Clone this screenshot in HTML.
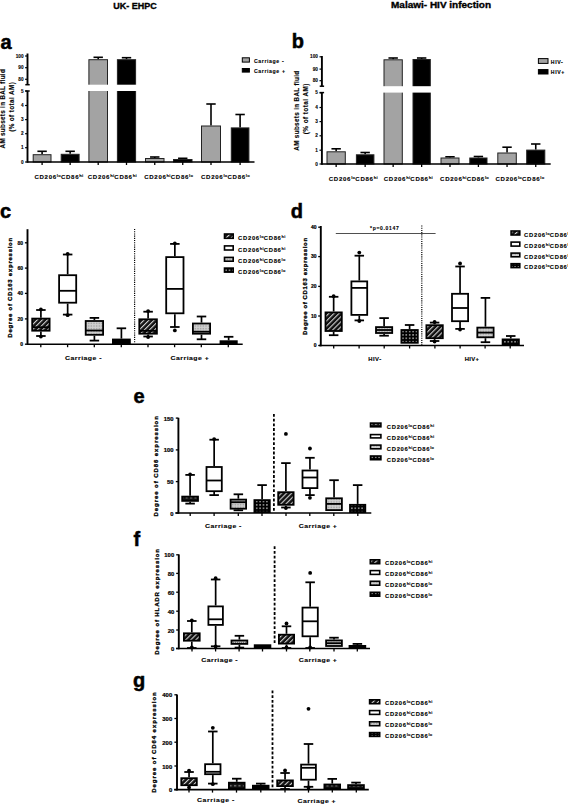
<!DOCTYPE html>
<html><head><meta charset="utf-8"><style>
html,body{margin:0;padding:0;background:#fff;width:568px;height:804px;overflow:hidden;}
svg{display:block;font-family:"Liberation Sans", sans-serif;}
</style></head><body>
<svg width="568" height="804" viewBox="0 0 568 804">
<rect width="568" height="804" fill="#fff"/>

<defs>
<pattern id="hatch" patternUnits="userSpaceOnUse" width="3.6" height="3.6" patternTransform="rotate(45)">
  <rect width="3.6" height="3.6" fill="#111"/>
  <rect x="0" y="0" width="1.1" height="3.6" fill="#d4d4d4"/>
</pattern>
<pattern id="dots" patternUnits="userSpaceOnUse" width="1.6" height="1.6">
  <rect width="1.6" height="1.6" fill="#d0d0d0"/>
  <rect x="0" y="0" width="0.8" height="0.8" fill="#9a9a9a"/>
</pattern>
<pattern id="chk" patternUnits="userSpaceOnUse" width="3.4" height="3.4">
  <rect width="3.4" height="3.4" fill="#000"/>
  <circle cx="1.7" cy="1.7" r="0.75" fill="#c8c8c8"/>
</pattern>
<pattern id="dash" patternUnits="userSpaceOnUse" width="4.4" height="3.2">
  <rect width="4.4" height="3.2" fill="#111"/>
  <rect x="0.8" y="1.3" width="2.2" height="0.9" fill="#c0c0c0"/>
</pattern>
</defs>

<text x="113.20" y="9.30" font-size="9.2" font-weight="bold" text-anchor="start" fill="#000" stroke="#000" stroke-width="0.35" textLength="43.5" lengthAdjust="spacingAndGlyphs">UK- EHPC</text>
<text x="391.00" y="8.00" font-size="9.2" font-weight="bold" text-anchor="start" fill="#000" stroke="#000" stroke-width="0.35" textLength="100" lengthAdjust="spacingAndGlyphs">Malawi- HIV infection</text>
<text x="0.60" y="48.80" font-size="20" font-weight="bold" text-anchor="start" fill="#000" stroke="#000" stroke-width="0.5">a</text>
<text x="291.70" y="47.50" font-size="20" font-weight="bold" text-anchor="start" fill="#000" stroke="#000" stroke-width="0.5">b</text>
<text x="0.00" y="218.20" font-size="20" font-weight="bold" text-anchor="start" fill="#000" stroke="#000" stroke-width="0.5">c</text>
<text x="290.80" y="218.20" font-size="20" font-weight="bold" text-anchor="start" fill="#000" stroke="#000" stroke-width="0.5">d</text>
<text x="133.60" y="403.20" font-size="20" font-weight="bold" text-anchor="start" fill="#000" stroke="#000" stroke-width="0.5">e</text>
<text x="133.50" y="546.30" font-size="20" font-weight="bold" text-anchor="start" fill="#000" stroke="#000" stroke-width="0.5">f</text>
<text x="133.00" y="686.50" font-size="20" font-weight="bold" text-anchor="start" fill="#000" stroke="#000" stroke-width="0.5">g</text>
<line x1="27.50" y1="53.50" x2="27.50" y2="84.70" stroke="#000" stroke-width="1.9"/>
<line x1="25.30" y1="84.70" x2="29.70" y2="84.70" stroke="#000" stroke-width="1.5"/>
<line x1="27.50" y1="91.00" x2="27.50" y2="162.80" stroke="#000" stroke-width="1.9"/>
<line x1="25.30" y1="91.00" x2="29.70" y2="91.00" stroke="#000" stroke-width="1.5"/>
<line x1="25.10" y1="56.00" x2="27.50" y2="56.00" stroke="#000" stroke-width="1.2"/>
<text x="23.50" y="57.60" font-size="4.7" font-weight="bold" text-anchor="end" fill="#000" stroke="#000" stroke-width="0.1">100</text>
<line x1="25.10" y1="67.70" x2="27.50" y2="67.70" stroke="#000" stroke-width="1.2"/>
<text x="23.50" y="69.30" font-size="4.7" font-weight="bold" text-anchor="end" fill="#000" stroke="#000" stroke-width="0.1">90</text>
<line x1="25.10" y1="79.30" x2="27.50" y2="79.30" stroke="#000" stroke-width="1.2"/>
<text x="23.50" y="80.90" font-size="4.7" font-weight="bold" text-anchor="end" fill="#000" stroke="#000" stroke-width="0.1">80</text>
<line x1="25.10" y1="91.00" x2="27.50" y2="91.00" stroke="#000" stroke-width="1.2"/>
<text x="23.50" y="92.60" font-size="4.7" font-weight="bold" text-anchor="end" fill="#000" stroke="#000" stroke-width="0.1">5</text>
<line x1="25.10" y1="105.50" x2="27.50" y2="105.50" stroke="#000" stroke-width="1.2"/>
<text x="23.50" y="107.10" font-size="4.7" font-weight="bold" text-anchor="end" fill="#000" stroke="#000" stroke-width="0.1">4</text>
<line x1="25.10" y1="119.60" x2="27.50" y2="119.60" stroke="#000" stroke-width="1.2"/>
<text x="23.50" y="121.20" font-size="4.7" font-weight="bold" text-anchor="end" fill="#000" stroke="#000" stroke-width="0.1">3</text>
<line x1="25.10" y1="133.70" x2="27.50" y2="133.70" stroke="#000" stroke-width="1.2"/>
<text x="23.50" y="135.30" font-size="4.7" font-weight="bold" text-anchor="end" fill="#000" stroke="#000" stroke-width="0.1">2</text>
<line x1="25.10" y1="147.70" x2="27.50" y2="147.70" stroke="#000" stroke-width="1.2"/>
<text x="23.50" y="149.30" font-size="4.7" font-weight="bold" text-anchor="end" fill="#000" stroke="#000" stroke-width="0.1">1</text>
<line x1="25.10" y1="162.00" x2="27.50" y2="162.00" stroke="#000" stroke-width="1.2"/>
<text x="23.50" y="163.60" font-size="4.7" font-weight="bold" text-anchor="end" fill="#000" stroke="#000" stroke-width="0.1">0</text>
<line x1="42.10" y1="151.30" x2="42.10" y2="154.20" stroke="#000" stroke-width="1.6"/>
<line x1="37.40" y1="151.30" x2="46.80" y2="151.30" stroke="#000" stroke-width="1.6"/>
<rect x="33.20" y="154.70" width="17.80" height="7.30" fill="#a3a3a3" stroke="#222" stroke-width="1.0"/>
<line x1="70.15" y1="151.30" x2="70.15" y2="153.80" stroke="#000" stroke-width="1.6"/>
<line x1="65.45" y1="151.30" x2="74.85" y2="151.30" stroke="#000" stroke-width="1.6"/>
<rect x="61.20" y="154.30" width="17.90" height="7.70" fill="#000" stroke="#222" stroke-width="1.0"/>
<line x1="98.20" y1="57.30" x2="98.20" y2="59.20" stroke="#000" stroke-width="1.6"/>
<line x1="93.50" y1="57.30" x2="102.90" y2="57.30" stroke="#000" stroke-width="1.6"/>
<rect x="88.90" y="59.70" width="18.60" height="102.30" fill="#a3a3a3" stroke="#222" stroke-width="1.0"/>
<rect x="87.40" y="84.70" width="21.60" height="6.30" fill="#fff"/>
<line x1="126.50" y1="57.70" x2="126.50" y2="59.20" stroke="#000" stroke-width="1.6"/>
<line x1="121.80" y1="57.70" x2="131.20" y2="57.70" stroke="#000" stroke-width="1.6"/>
<rect x="117.40" y="59.70" width="18.20" height="102.30" fill="#000" stroke="#222" stroke-width="1.0"/>
<rect x="115.90" y="84.70" width="21.20" height="6.30" fill="#fff"/>
<line x1="154.75" y1="157.00" x2="154.75" y2="158.00" stroke="#000" stroke-width="1.6"/>
<line x1="150.05" y1="157.00" x2="159.45" y2="157.00" stroke="#000" stroke-width="1.6"/>
<rect x="145.50" y="158.50" width="18.50" height="3.50" fill="#a3a3a3" stroke="#222" stroke-width="1.0"/>
<line x1="182.75" y1="158.30" x2="182.75" y2="159.00" stroke="#000" stroke-width="1.6"/>
<line x1="178.05" y1="158.30" x2="187.45" y2="158.30" stroke="#000" stroke-width="1.6"/>
<rect x="173.50" y="159.50" width="18.50" height="2.50" fill="#000" stroke="#222" stroke-width="1.0"/>
<line x1="211.00" y1="104.00" x2="211.00" y2="125.50" stroke="#000" stroke-width="1.6"/>
<line x1="206.30" y1="104.00" x2="215.70" y2="104.00" stroke="#000" stroke-width="1.6"/>
<rect x="201.50" y="126.00" width="19.00" height="36.00" fill="#a3a3a3" stroke="#222" stroke-width="1.0"/>
<line x1="240.10" y1="114.50" x2="240.10" y2="127.40" stroke="#000" stroke-width="1.6"/>
<line x1="235.40" y1="114.50" x2="244.80" y2="114.50" stroke="#000" stroke-width="1.6"/>
<rect x="231.30" y="127.90" width="17.60" height="34.10" fill="#000" stroke="#222" stroke-width="1.0"/>
<line x1="27.50" y1="162.00" x2="254.50" y2="162.00" stroke="#000" stroke-width="1.6"/>
<line x1="42.10" y1="162.00" x2="42.10" y2="165.00" stroke="#000" stroke-width="1.3"/>
<line x1="70.15" y1="162.00" x2="70.15" y2="165.00" stroke="#000" stroke-width="1.3"/>
<line x1="98.20" y1="162.00" x2="98.20" y2="165.00" stroke="#000" stroke-width="1.3"/>
<line x1="126.50" y1="162.00" x2="126.50" y2="165.00" stroke="#000" stroke-width="1.3"/>
<line x1="154.75" y1="162.00" x2="154.75" y2="165.00" stroke="#000" stroke-width="1.3"/>
<line x1="182.75" y1="162.00" x2="182.75" y2="165.00" stroke="#000" stroke-width="1.3"/>
<line x1="211.00" y1="162.00" x2="211.00" y2="165.00" stroke="#000" stroke-width="1.3"/>
<line x1="240.10" y1="162.00" x2="240.10" y2="165.00" stroke="#000" stroke-width="1.3"/>
<text transform="translate(58.90 178.70) scale(1.17 1)" x="0" y="0" font-size="5.2" font-weight="bold" text-anchor="middle" fill="#000" letter-spacing="0.6" stroke="#000" stroke-width="0.1">CD206<tspan font-size="3.54" dy="-2.0" letter-spacing="0.2">lo</tspan><tspan dy="2.0">CD86</tspan><tspan font-size="3.54" dy="-2.0" letter-spacing="0.2">hi</tspan></text>
<text transform="translate(112.30 178.70) scale(1.17 1)" x="0" y="0" font-size="5.2" font-weight="bold" text-anchor="middle" fill="#000" letter-spacing="0.6" stroke="#000" stroke-width="0.1">CD206<tspan font-size="3.54" dy="-2.0" letter-spacing="0.2">hi</tspan><tspan dy="2.0">CD86</tspan><tspan font-size="3.54" dy="-2.0" letter-spacing="0.2">hi</tspan></text>
<text transform="translate(168.70 178.70) scale(1.17 1)" x="0" y="0" font-size="5.2" font-weight="bold" text-anchor="middle" fill="#000" letter-spacing="0.6" stroke="#000" stroke-width="0.1">CD206<tspan font-size="3.54" dy="-2.0" letter-spacing="0.2">hi</tspan><tspan dy="2.0">CD86</tspan><tspan font-size="3.54" dy="-2.0" letter-spacing="0.2">lo</tspan></text>
<text transform="translate(225.50 178.70) scale(1.17 1)" x="0" y="0" font-size="5.2" font-weight="bold" text-anchor="middle" fill="#000" letter-spacing="0.6" stroke="#000" stroke-width="0.1">CD206<tspan font-size="3.54" dy="-2.0" letter-spacing="0.2">lo</tspan><tspan dy="2.0">CD86</tspan><tspan font-size="3.54" dy="-2.0" letter-spacing="0.2">lo</tspan></text>
<text x="5.00" y="108.85" font-size="6.3" font-weight="bold" text-anchor="middle" fill="#000" stroke="#000" stroke-width="0.12" textLength="79.3" lengthAdjust="spacing" transform="rotate(-90 5.00 108.85)">AM subsets in BAL fluid</text>
<text x="14.00" y="107.00" font-size="6.3" font-weight="bold" text-anchor="middle" fill="#000" stroke="#000" stroke-width="0.12" textLength="49.7" lengthAdjust="spacing" transform="rotate(-90 14.00 107.00)">(% of total AM)</text>
<rect x="242.30" y="57.80" width="7.10" height="4.30" fill="#a3a3a3" stroke="#000" stroke-width="1.0"/>
<text x="254.00" y="62.90" font-size="5.2" font-weight="bold" text-anchor="start" fill="#000" letter-spacing="0.6" stroke="#000" stroke-width="0.12">Carriage -</text>
<rect x="242.30" y="68.50" width="7.10" height="3.60" fill="#000" stroke="#000" stroke-width="1.0"/>
<text x="254.00" y="73.20" font-size="5.2" font-weight="bold" text-anchor="start" fill="#000" letter-spacing="0.6" stroke="#000" stroke-width="0.12">Carriage +</text>
<line x1="321.90" y1="56.00" x2="321.90" y2="86.20" stroke="#000" stroke-width="1.9"/>
<line x1="319.70" y1="86.20" x2="324.10" y2="86.20" stroke="#000" stroke-width="1.5"/>
<line x1="321.90" y1="92.60" x2="321.90" y2="164.80" stroke="#000" stroke-width="1.9"/>
<line x1="319.70" y1="92.60" x2="324.10" y2="92.60" stroke="#000" stroke-width="1.5"/>
<line x1="319.50" y1="56.80" x2="321.90" y2="56.80" stroke="#000" stroke-width="1.2"/>
<text x="317.90" y="58.40" font-size="4.7" font-weight="bold" text-anchor="end" fill="#000" stroke="#000" stroke-width="0.1">100</text>
<line x1="319.50" y1="69.10" x2="321.90" y2="69.10" stroke="#000" stroke-width="1.2"/>
<text x="317.90" y="70.70" font-size="4.7" font-weight="bold" text-anchor="end" fill="#000" stroke="#000" stroke-width="0.1">90</text>
<line x1="319.50" y1="80.70" x2="321.90" y2="80.70" stroke="#000" stroke-width="1.2"/>
<text x="317.90" y="82.30" font-size="4.7" font-weight="bold" text-anchor="end" fill="#000" stroke="#000" stroke-width="0.1">80</text>
<line x1="319.50" y1="92.80" x2="321.90" y2="92.80" stroke="#000" stroke-width="1.2"/>
<text x="317.90" y="94.40" font-size="4.7" font-weight="bold" text-anchor="end" fill="#000" stroke="#000" stroke-width="0.1">5</text>
<line x1="319.50" y1="107.50" x2="321.90" y2="107.50" stroke="#000" stroke-width="1.2"/>
<text x="317.90" y="109.10" font-size="4.7" font-weight="bold" text-anchor="end" fill="#000" stroke="#000" stroke-width="0.1">4</text>
<line x1="319.50" y1="121.60" x2="321.90" y2="121.60" stroke="#000" stroke-width="1.2"/>
<text x="317.90" y="123.20" font-size="4.7" font-weight="bold" text-anchor="end" fill="#000" stroke="#000" stroke-width="0.1">3</text>
<line x1="319.50" y1="135.80" x2="321.90" y2="135.80" stroke="#000" stroke-width="1.2"/>
<text x="317.90" y="137.40" font-size="4.7" font-weight="bold" text-anchor="end" fill="#000" stroke="#000" stroke-width="0.1">2</text>
<line x1="319.50" y1="150.20" x2="321.90" y2="150.20" stroke="#000" stroke-width="1.2"/>
<text x="317.90" y="151.80" font-size="4.7" font-weight="bold" text-anchor="end" fill="#000" stroke="#000" stroke-width="0.1">1</text>
<line x1="319.50" y1="164.00" x2="321.90" y2="164.00" stroke="#000" stroke-width="1.2"/>
<text x="317.90" y="165.60" font-size="4.7" font-weight="bold" text-anchor="end" fill="#000" stroke="#000" stroke-width="0.1">0</text>
<line x1="336.15" y1="148.80" x2="336.15" y2="151.30" stroke="#000" stroke-width="1.6"/>
<line x1="331.45" y1="148.80" x2="340.85" y2="148.80" stroke="#000" stroke-width="1.6"/>
<rect x="327.00" y="151.80" width="18.30" height="12.20" fill="#a3a3a3" stroke="#222" stroke-width="1.0"/>
<line x1="365.15" y1="152.50" x2="365.15" y2="154.30" stroke="#000" stroke-width="1.6"/>
<line x1="360.45" y1="152.50" x2="369.85" y2="152.50" stroke="#000" stroke-width="1.6"/>
<rect x="356.40" y="154.80" width="17.50" height="9.20" fill="#000" stroke="#222" stroke-width="1.0"/>
<line x1="393.15" y1="58.00" x2="393.15" y2="59.30" stroke="#000" stroke-width="1.6"/>
<line x1="388.45" y1="58.00" x2="397.85" y2="58.00" stroke="#000" stroke-width="1.6"/>
<rect x="384.00" y="59.80" width="18.30" height="104.20" fill="#a3a3a3" stroke="#222" stroke-width="1.0"/>
<rect x="382.50" y="86.20" width="21.30" height="6.40" fill="#fff"/>
<line x1="421.65" y1="58.00" x2="421.65" y2="59.00" stroke="#000" stroke-width="1.6"/>
<line x1="416.95" y1="58.00" x2="426.35" y2="58.00" stroke="#000" stroke-width="1.6"/>
<rect x="413.00" y="59.50" width="17.30" height="104.50" fill="#000" stroke="#222" stroke-width="1.0"/>
<rect x="411.50" y="86.20" width="20.30" height="6.40" fill="#fff"/>
<line x1="450.00" y1="156.80" x2="450.00" y2="157.50" stroke="#000" stroke-width="1.6"/>
<line x1="445.30" y1="156.80" x2="454.70" y2="156.80" stroke="#000" stroke-width="1.6"/>
<rect x="441.00" y="158.00" width="18.00" height="6.00" fill="#a3a3a3" stroke="#222" stroke-width="1.0"/>
<line x1="478.40" y1="156.50" x2="478.40" y2="157.50" stroke="#000" stroke-width="1.6"/>
<line x1="473.70" y1="156.50" x2="483.10" y2="156.50" stroke="#000" stroke-width="1.6"/>
<rect x="469.80" y="158.00" width="17.20" height="6.00" fill="#000" stroke="#222" stroke-width="1.0"/>
<line x1="507.05" y1="147.20" x2="507.05" y2="152.50" stroke="#000" stroke-width="1.6"/>
<line x1="502.35" y1="147.20" x2="511.75" y2="147.20" stroke="#000" stroke-width="1.6"/>
<rect x="497.80" y="153.00" width="18.50" height="11.00" fill="#a3a3a3" stroke="#222" stroke-width="1.0"/>
<line x1="535.75" y1="144.00" x2="535.75" y2="149.60" stroke="#000" stroke-width="1.6"/>
<line x1="531.05" y1="144.00" x2="540.45" y2="144.00" stroke="#000" stroke-width="1.6"/>
<rect x="526.70" y="150.10" width="18.10" height="13.90" fill="#000" stroke="#222" stroke-width="1.0"/>
<line x1="321.90" y1="164.00" x2="550.70" y2="164.00" stroke="#000" stroke-width="1.6"/>
<line x1="336.15" y1="164.00" x2="336.15" y2="167.00" stroke="#000" stroke-width="1.3"/>
<line x1="365.15" y1="164.00" x2="365.15" y2="167.00" stroke="#000" stroke-width="1.3"/>
<line x1="393.15" y1="164.00" x2="393.15" y2="167.00" stroke="#000" stroke-width="1.3"/>
<line x1="421.65" y1="164.00" x2="421.65" y2="167.00" stroke="#000" stroke-width="1.3"/>
<line x1="450.00" y1="164.00" x2="450.00" y2="167.00" stroke="#000" stroke-width="1.3"/>
<line x1="478.40" y1="164.00" x2="478.40" y2="167.00" stroke="#000" stroke-width="1.3"/>
<line x1="507.05" y1="164.00" x2="507.05" y2="167.00" stroke="#000" stroke-width="1.3"/>
<line x1="535.75" y1="164.00" x2="535.75" y2="167.00" stroke="#000" stroke-width="1.3"/>
<text transform="translate(353.30 181.00) scale(1.17 1)" x="0" y="0" font-size="5.2" font-weight="bold" text-anchor="middle" fill="#000" letter-spacing="0.6" stroke="#000" stroke-width="0.1">CD206<tspan font-size="3.54" dy="-2.0" letter-spacing="0.2">lo</tspan><tspan dy="2.0">CD86</tspan><tspan font-size="3.54" dy="-2.0" letter-spacing="0.2">hi</tspan></text>
<text transform="translate(408.30 181.00) scale(1.17 1)" x="0" y="0" font-size="5.2" font-weight="bold" text-anchor="middle" fill="#000" letter-spacing="0.6" stroke="#000" stroke-width="0.1">CD206<tspan font-size="3.54" dy="-2.0" letter-spacing="0.2">hi</tspan><tspan dy="2.0">CD86</tspan><tspan font-size="3.54" dy="-2.0" letter-spacing="0.2">hi</tspan></text>
<text transform="translate(464.60 181.00) scale(1.17 1)" x="0" y="0" font-size="5.2" font-weight="bold" text-anchor="middle" fill="#000" letter-spacing="0.6" stroke="#000" stroke-width="0.1">CD206<tspan font-size="3.54" dy="-2.0" letter-spacing="0.2">hi</tspan><tspan dy="2.0">CD86</tspan><tspan font-size="3.54" dy="-2.0" letter-spacing="0.2">lo</tspan></text>
<text transform="translate(520.00 181.00) scale(1.17 1)" x="0" y="0" font-size="5.2" font-weight="bold" text-anchor="middle" fill="#000" letter-spacing="0.6" stroke="#000" stroke-width="0.1">CD206<tspan font-size="3.54" dy="-2.0" letter-spacing="0.2">lo</tspan><tspan dy="2.0">CD86</tspan><tspan font-size="3.54" dy="-2.0" letter-spacing="0.2">lo</tspan></text>
<text x="298.90" y="110.80" font-size="6.3" font-weight="bold" text-anchor="middle" fill="#000" stroke="#000" stroke-width="0.12" textLength="79.8" lengthAdjust="spacing" transform="rotate(-90 298.90 110.80)">AM subsets in BAL fluid</text>
<text x="308.40" y="108.95" font-size="6.3" font-weight="bold" text-anchor="middle" fill="#000" stroke="#000" stroke-width="0.12" textLength="50.5" lengthAdjust="spacing" transform="rotate(-90 308.40 108.95)">(% of total AM)</text>
<rect x="538.40" y="58.60" width="9.60" height="4.80" fill="#a3a3a3" stroke="#000" stroke-width="1.0"/>
<text x="550.80" y="63.80" font-size="5.2" font-weight="bold" text-anchor="start" fill="#000" letter-spacing="0.6" stroke="#000" stroke-width="0.12">HIV-</text>
<rect x="538.40" y="69.60" width="9.60" height="4.40" fill="#000" stroke="#000" stroke-width="1.0"/>
<text x="550.80" y="74.00" font-size="5.2" font-weight="bold" text-anchor="start" fill="#000" letter-spacing="0.6" stroke="#000" stroke-width="0.12">HIV+</text>
<line x1="27.50" y1="229.20" x2="27.50" y2="345.00" stroke="#000" stroke-width="1.9"/>
<line x1="24.90" y1="242.80" x2="27.50" y2="242.80" stroke="#000" stroke-width="1.3"/>
<text x="23.10" y="244.50" font-size="5.0" font-weight="bold" text-anchor="end" fill="#000" stroke="#000" stroke-width="0.2">80</text>
<line x1="24.90" y1="268.10" x2="27.50" y2="268.10" stroke="#000" stroke-width="1.3"/>
<text x="23.10" y="269.80" font-size="5.0" font-weight="bold" text-anchor="end" fill="#000" stroke="#000" stroke-width="0.2">60</text>
<line x1="24.90" y1="293.40" x2="27.50" y2="293.40" stroke="#000" stroke-width="1.3"/>
<text x="23.10" y="295.10" font-size="5.0" font-weight="bold" text-anchor="end" fill="#000" stroke="#000" stroke-width="0.2">40</text>
<line x1="24.90" y1="318.90" x2="27.50" y2="318.90" stroke="#000" stroke-width="1.3"/>
<text x="23.10" y="320.60" font-size="5.0" font-weight="bold" text-anchor="end" fill="#000" stroke="#000" stroke-width="0.2">20</text>
<line x1="24.90" y1="344.20" x2="27.50" y2="344.20" stroke="#000" stroke-width="1.3"/>
<text x="23.10" y="345.90" font-size="5.0" font-weight="bold" text-anchor="end" fill="#000" stroke="#000" stroke-width="0.2">0</text>
<text x="12.30" y="287.75" font-size="6.0" font-weight="bold" text-anchor="middle" fill="#000" stroke="#000" stroke-width="0.3" textLength="99.9" lengthAdjust="spacing" transform="rotate(-90 12.30 287.75)">Degree of CD163 expression</text>
<line x1="134.60" y1="229.00" x2="134.60" y2="343.00" stroke="#000" stroke-width="1.2" stroke-dasharray="1.1,1.1"/>
<line x1="27.50" y1="344.20" x2="242.70" y2="344.20" stroke="#000" stroke-width="1.6"/>
<line x1="40.80" y1="344.20" x2="40.80" y2="347.20" stroke="#000" stroke-width="1.3"/>
<line x1="67.60" y1="344.20" x2="67.60" y2="347.20" stroke="#000" stroke-width="1.3"/>
<line x1="94.30" y1="344.20" x2="94.30" y2="347.20" stroke="#000" stroke-width="1.3"/>
<line x1="121.30" y1="344.20" x2="121.30" y2="347.20" stroke="#000" stroke-width="1.3"/>
<line x1="148.00" y1="344.20" x2="148.00" y2="347.20" stroke="#000" stroke-width="1.3"/>
<line x1="174.60" y1="344.20" x2="174.60" y2="347.20" stroke="#000" stroke-width="1.3"/>
<line x1="201.30" y1="344.20" x2="201.30" y2="347.20" stroke="#000" stroke-width="1.3"/>
<line x1="228.30" y1="344.20" x2="228.30" y2="347.20" stroke="#000" stroke-width="1.3"/>
<line x1="40.90" y1="310.00" x2="40.90" y2="317.70" stroke="#000" stroke-width="1.7"/>
<line x1="36.15" y1="310.00" x2="45.65" y2="310.00" stroke="#000" stroke-width="1.8"/>
<line x1="40.90" y1="331.60" x2="40.90" y2="336.00" stroke="#000" stroke-width="1.7"/>
<line x1="36.15" y1="336.00" x2="45.65" y2="336.00" stroke="#000" stroke-width="1.8"/>
<rect x="32.20" y="318.60" width="17.40" height="12.10" fill="url(#hatch)" stroke="#000" stroke-width="1.8"/>
<line x1="32.20" y1="327.20" x2="49.60" y2="327.20" stroke="#000" stroke-width="1.8"/>
<circle cx="40.90" cy="309.40" r="1.9" fill="#000"/>
<circle cx="40.90" cy="336.60" r="1.9" fill="#000"/>
<line x1="67.65" y1="254.50" x2="67.65" y2="274.30" stroke="#000" stroke-width="1.7"/>
<line x1="62.90" y1="254.50" x2="72.40" y2="254.50" stroke="#000" stroke-width="1.8"/>
<line x1="67.65" y1="303.60" x2="67.65" y2="314.60" stroke="#000" stroke-width="1.7"/>
<line x1="62.90" y1="314.60" x2="72.40" y2="314.60" stroke="#000" stroke-width="1.8"/>
<rect x="59.10" y="275.20" width="17.10" height="27.50" fill="#fff" stroke="#000" stroke-width="1.8"/>
<line x1="59.10" y1="290.80" x2="76.20" y2="290.80" stroke="#000" stroke-width="1.8"/>
<circle cx="67.65" cy="253.90" r="1.9" fill="#000"/>
<circle cx="67.65" cy="315.20" r="1.9" fill="#000"/>
<line x1="94.40" y1="317.90" x2="94.40" y2="320.10" stroke="#000" stroke-width="1.7"/>
<line x1="89.65" y1="317.90" x2="99.15" y2="317.90" stroke="#000" stroke-width="1.8"/>
<line x1="94.40" y1="335.70" x2="94.40" y2="340.60" stroke="#000" stroke-width="1.7"/>
<line x1="89.65" y1="340.60" x2="99.15" y2="340.60" stroke="#000" stroke-width="1.8"/>
<rect x="85.70" y="321.00" width="17.40" height="13.80" fill="url(#dots)" stroke="#000" stroke-width="1.8"/>
<line x1="85.70" y1="330.50" x2="103.10" y2="330.50" stroke="#000" stroke-width="1.8"/>
<line x1="121.40" y1="328.30" x2="121.40" y2="338.60" stroke="#000" stroke-width="1.7"/>
<line x1="116.65" y1="328.30" x2="126.15" y2="328.30" stroke="#000" stroke-width="1.8"/>
<rect x="112.90" y="339.50" width="17.00" height="3.80" fill="#000" stroke="#000" stroke-width="1.8"/>
<line x1="148.10" y1="311.70" x2="148.10" y2="318.40" stroke="#000" stroke-width="1.7"/>
<line x1="143.35" y1="311.70" x2="152.85" y2="311.70" stroke="#000" stroke-width="1.8"/>
<line x1="148.10" y1="334.60" x2="148.10" y2="336.50" stroke="#000" stroke-width="1.7"/>
<line x1="143.35" y1="336.50" x2="152.85" y2="336.50" stroke="#000" stroke-width="1.8"/>
<rect x="139.30" y="319.30" width="17.60" height="14.40" fill="url(#hatch)" stroke="#000" stroke-width="1.8"/>
<line x1="139.30" y1="330.80" x2="156.90" y2="330.80" stroke="#000" stroke-width="1.8"/>
<circle cx="148.10" cy="311.10" r="1.9" fill="#000"/>
<circle cx="148.10" cy="337.10" r="1.9" fill="#000"/>
<line x1="174.85" y1="243.90" x2="174.85" y2="256.20" stroke="#000" stroke-width="1.7"/>
<line x1="170.10" y1="243.90" x2="179.60" y2="243.90" stroke="#000" stroke-width="1.8"/>
<line x1="174.85" y1="314.20" x2="174.85" y2="327.00" stroke="#000" stroke-width="1.7"/>
<line x1="170.10" y1="327.00" x2="179.60" y2="327.00" stroke="#000" stroke-width="1.8"/>
<rect x="166.20" y="257.10" width="17.30" height="56.20" fill="#fff" stroke="#000" stroke-width="1.8"/>
<line x1="166.20" y1="288.90" x2="183.50" y2="288.90" stroke="#000" stroke-width="1.8"/>
<circle cx="174.85" cy="330.40" r="1.9" fill="#000"/>
<circle cx="174.85" cy="243.30" r="1.9" fill="#000"/>
<line x1="201.50" y1="316.50" x2="201.50" y2="322.60" stroke="#000" stroke-width="1.7"/>
<line x1="196.75" y1="316.50" x2="206.25" y2="316.50" stroke="#000" stroke-width="1.8"/>
<line x1="201.50" y1="334.60" x2="201.50" y2="339.30" stroke="#000" stroke-width="1.7"/>
<line x1="196.75" y1="339.30" x2="206.25" y2="339.30" stroke="#000" stroke-width="1.8"/>
<rect x="192.90" y="323.50" width="17.20" height="10.20" fill="url(#dots)" stroke="#000" stroke-width="1.8"/>
<line x1="192.90" y1="331.70" x2="210.10" y2="331.70" stroke="#000" stroke-width="1.8"/>
<line x1="228.65" y1="336.80" x2="228.65" y2="340.30" stroke="#000" stroke-width="1.7"/>
<line x1="223.90" y1="336.80" x2="233.40" y2="336.80" stroke="#000" stroke-width="1.8"/>
<rect x="220.50" y="341.20" width="16.30" height="2.10" fill="#000" stroke="#000" stroke-width="1.8"/>
<text transform="translate(65.10 359.70) scale(1.17 1)" x="0" y="0" font-size="5.9" font-weight="bold" text-anchor="start" fill="#000" letter-spacing="0.4" stroke="#000" stroke-width="0.12">Carriage -</text>
<text transform="translate(170.60 359.70) scale(1.17 1)" x="0" y="0" font-size="5.9" font-weight="bold" text-anchor="start" fill="#000" letter-spacing="0.4" stroke="#000" stroke-width="0.12">Carriage +</text>
<rect x="224.50" y="234.00" width="8.70" height="4.30" fill="url(#hatch)" stroke="#000" stroke-width="1.6"/>
<text transform="translate(238.10 239.85) scale(1.17 1)" x="0" y="0" font-size="5.0" font-weight="bold" text-anchor="start" fill="#000" letter-spacing="0.6" stroke="#000" stroke-width="0.1">CD206<tspan font-size="3.40" dy="-2.0" letter-spacing="0.2">lo</tspan><tspan dy="2.0">CD86</tspan><tspan font-size="3.40" dy="-2.0" letter-spacing="0.2">hi</tspan></text>
<rect x="224.50" y="245.90" width="8.70" height="4.10" fill="#fff" stroke="#000" stroke-width="1.6"/>
<text transform="translate(238.10 251.65) scale(1.17 1)" x="0" y="0" font-size="5.0" font-weight="bold" text-anchor="start" fill="#000" letter-spacing="0.6" stroke="#000" stroke-width="0.1">CD206<tspan font-size="3.40" dy="-2.0" letter-spacing="0.2">hi</tspan><tspan dy="2.0">CD86</tspan><tspan font-size="3.40" dy="-2.0" letter-spacing="0.2">hi</tspan></text>
<rect x="224.50" y="257.40" width="8.70" height="3.80" fill="url(#dots)" stroke="#000" stroke-width="1.6"/>
<text transform="translate(238.10 263.00) scale(1.17 1)" x="0" y="0" font-size="5.0" font-weight="bold" text-anchor="start" fill="#000" letter-spacing="0.6" stroke="#000" stroke-width="0.1">CD206<tspan font-size="3.40" dy="-2.0" letter-spacing="0.2">hi</tspan><tspan dy="2.0">CD86</tspan><tspan font-size="3.40" dy="-2.0" letter-spacing="0.2">lo</tspan></text>
<rect x="224.50" y="268.10" width="8.70" height="4.00" fill="url(#chk)" stroke="#000" stroke-width="1.6"/>
<text transform="translate(238.10 273.80) scale(1.17 1)" x="0" y="0" font-size="5.0" font-weight="bold" text-anchor="start" fill="#000" letter-spacing="0.6" stroke="#000" stroke-width="0.1">CD206<tspan font-size="3.40" dy="-2.0" letter-spacing="0.2">lo</tspan><tspan dy="2.0">CD86</tspan><tspan font-size="3.40" dy="-2.0" letter-spacing="0.2">lo</tspan></text>
<line x1="320.80" y1="226.00" x2="320.80" y2="346.30" stroke="#000" stroke-width="1.9"/>
<line x1="318.20" y1="227.20" x2="320.80" y2="227.20" stroke="#000" stroke-width="1.3"/>
<text x="316.60" y="228.90" font-size="5.0" font-weight="bold" text-anchor="end" fill="#000" stroke="#000" stroke-width="0.2">40</text>
<line x1="318.20" y1="256.60" x2="320.80" y2="256.60" stroke="#000" stroke-width="1.3"/>
<text x="316.60" y="258.30" font-size="5.0" font-weight="bold" text-anchor="end" fill="#000" stroke="#000" stroke-width="0.2">30</text>
<line x1="318.20" y1="286.40" x2="320.80" y2="286.40" stroke="#000" stroke-width="1.3"/>
<text x="316.60" y="288.10" font-size="5.0" font-weight="bold" text-anchor="end" fill="#000" stroke="#000" stroke-width="0.2">20</text>
<line x1="318.20" y1="316.00" x2="320.80" y2="316.00" stroke="#000" stroke-width="1.3"/>
<text x="316.60" y="317.70" font-size="5.0" font-weight="bold" text-anchor="end" fill="#000" stroke="#000" stroke-width="0.2">10</text>
<line x1="318.20" y1="345.50" x2="320.80" y2="345.50" stroke="#000" stroke-width="1.3"/>
<text x="316.60" y="347.20" font-size="5.0" font-weight="bold" text-anchor="end" fill="#000" stroke="#000" stroke-width="0.2">0</text>
<text x="307.40" y="286.45" font-size="6.0" font-weight="bold" text-anchor="middle" fill="#000" stroke="#000" stroke-width="0.3" textLength="97.1" lengthAdjust="spacing" transform="rotate(-90 307.40 286.45)">Degree of CD163 expression</text>
<line x1="421.80" y1="225.50" x2="421.80" y2="345.00" stroke="#000" stroke-width="1.2" stroke-dasharray="1.1,1.1"/>
<line x1="335.80" y1="233.50" x2="435.60" y2="233.50" stroke="#222" stroke-width="0.8"/>
<text x="370.00" y="230.00" font-size="5.0" font-weight="bold" text-anchor="start" fill="#000" letter-spacing="0.7" stroke="#000" stroke-width="0.1">*p=0.0147</text>
<line x1="319.00" y1="345.50" x2="524.00" y2="345.50" stroke="#000" stroke-width="1.6"/>
<line x1="333.70" y1="345.50" x2="333.70" y2="348.50" stroke="#000" stroke-width="1.3"/>
<line x1="359.10" y1="345.50" x2="359.10" y2="348.50" stroke="#000" stroke-width="1.3"/>
<line x1="384.20" y1="345.50" x2="384.20" y2="348.50" stroke="#000" stroke-width="1.3"/>
<line x1="409.60" y1="345.50" x2="409.60" y2="348.50" stroke="#000" stroke-width="1.3"/>
<line x1="434.90" y1="345.50" x2="434.90" y2="348.50" stroke="#000" stroke-width="1.3"/>
<line x1="460.10" y1="345.50" x2="460.10" y2="348.50" stroke="#000" stroke-width="1.3"/>
<line x1="485.10" y1="345.50" x2="485.10" y2="348.50" stroke="#000" stroke-width="1.3"/>
<line x1="510.20" y1="345.50" x2="510.20" y2="348.50" stroke="#000" stroke-width="1.3"/>
<line x1="333.65" y1="296.80" x2="333.65" y2="311.50" stroke="#000" stroke-width="1.7"/>
<line x1="328.90" y1="296.80" x2="338.40" y2="296.80" stroke="#000" stroke-width="1.8"/>
<line x1="333.65" y1="331.90" x2="333.65" y2="335.20" stroke="#000" stroke-width="1.7"/>
<line x1="328.90" y1="335.20" x2="338.40" y2="335.20" stroke="#000" stroke-width="1.8"/>
<rect x="325.50" y="312.40" width="16.30" height="18.60" fill="url(#hatch)" stroke="#000" stroke-width="1.8"/>
<circle cx="333.65" cy="296.20" r="1.9" fill="#000"/>
<line x1="359.30" y1="255.70" x2="359.30" y2="280.50" stroke="#000" stroke-width="1.7"/>
<line x1="354.55" y1="255.70" x2="364.05" y2="255.70" stroke="#000" stroke-width="1.8"/>
<line x1="359.30" y1="315.80" x2="359.30" y2="320.40" stroke="#000" stroke-width="1.7"/>
<line x1="354.55" y1="320.40" x2="364.05" y2="320.40" stroke="#000" stroke-width="1.8"/>
<rect x="351.40" y="281.40" width="15.80" height="33.50" fill="#fff" stroke="#000" stroke-width="1.8"/>
<line x1="351.40" y1="287.90" x2="367.20" y2="287.90" stroke="#000" stroke-width="1.8"/>
<circle cx="359.30" cy="252.60" r="1.9" fill="#000"/>
<circle cx="359.30" cy="321.00" r="1.9" fill="#000"/>
<line x1="384.10" y1="318.10" x2="384.10" y2="326.20" stroke="#000" stroke-width="1.7"/>
<line x1="379.35" y1="318.10" x2="388.85" y2="318.10" stroke="#000" stroke-width="1.8"/>
<line x1="384.10" y1="333.90" x2="384.10" y2="335.70" stroke="#000" stroke-width="1.7"/>
<line x1="379.35" y1="335.70" x2="388.85" y2="335.70" stroke="#000" stroke-width="1.8"/>
<rect x="376.00" y="327.10" width="16.20" height="5.90" fill="url(#dots)" stroke="#000" stroke-width="1.8"/>
<line x1="376.00" y1="330.00" x2="392.20" y2="330.00" stroke="#000" stroke-width="1.8"/>
<line x1="409.60" y1="325.00" x2="409.60" y2="329.10" stroke="#000" stroke-width="1.7"/>
<line x1="404.85" y1="325.00" x2="414.35" y2="325.00" stroke="#000" stroke-width="1.8"/>
<rect x="401.40" y="330.00" width="16.40" height="12.80" fill="url(#chk)" stroke="#000" stroke-width="1.8"/>
<line x1="434.60" y1="322.60" x2="434.60" y2="324.30" stroke="#000" stroke-width="1.7"/>
<line x1="429.85" y1="322.60" x2="439.35" y2="322.60" stroke="#000" stroke-width="1.8"/>
<line x1="434.60" y1="339.10" x2="434.60" y2="341.00" stroke="#000" stroke-width="1.7"/>
<line x1="429.85" y1="341.00" x2="439.35" y2="341.00" stroke="#000" stroke-width="1.8"/>
<rect x="426.40" y="325.20" width="16.40" height="13.00" fill="url(#hatch)" stroke="#000" stroke-width="1.8"/>
<circle cx="434.60" cy="322.00" r="1.9" fill="#000"/>
<circle cx="434.60" cy="341.60" r="1.9" fill="#000"/>
<line x1="460.05" y1="266.50" x2="460.05" y2="292.90" stroke="#000" stroke-width="1.7"/>
<line x1="455.30" y1="266.50" x2="464.80" y2="266.50" stroke="#000" stroke-width="1.8"/>
<line x1="460.05" y1="322.10" x2="460.05" y2="328.90" stroke="#000" stroke-width="1.7"/>
<line x1="455.30" y1="328.90" x2="464.80" y2="328.90" stroke="#000" stroke-width="1.8"/>
<rect x="452.00" y="293.80" width="16.10" height="27.40" fill="#fff" stroke="#000" stroke-width="1.8"/>
<line x1="452.00" y1="308.00" x2="468.10" y2="308.00" stroke="#000" stroke-width="1.8"/>
<circle cx="460.05" cy="263.50" r="1.9" fill="#000"/>
<circle cx="460.05" cy="329.50" r="1.9" fill="#000"/>
<line x1="485.45" y1="297.90" x2="485.45" y2="326.70" stroke="#000" stroke-width="1.7"/>
<line x1="480.70" y1="297.90" x2="490.20" y2="297.90" stroke="#000" stroke-width="1.8"/>
<line x1="485.45" y1="338.20" x2="485.45" y2="342.20" stroke="#000" stroke-width="1.7"/>
<line x1="480.70" y1="342.20" x2="490.20" y2="342.20" stroke="#000" stroke-width="1.8"/>
<rect x="477.30" y="327.60" width="16.30" height="9.70" fill="url(#dots)" stroke="#000" stroke-width="1.8"/>
<line x1="477.30" y1="332.60" x2="493.60" y2="332.60" stroke="#000" stroke-width="1.8"/>
<line x1="510.75" y1="336.00" x2="510.75" y2="338.50" stroke="#000" stroke-width="1.7"/>
<line x1="506.00" y1="336.00" x2="515.50" y2="336.00" stroke="#000" stroke-width="1.8"/>
<rect x="502.60" y="339.40" width="16.30" height="5.20" fill="url(#chk)" stroke="#000" stroke-width="1.8"/>
<text x="368.20" y="360.60" font-size="5.9" font-weight="bold" text-anchor="start" fill="#000" letter-spacing="0.5" stroke="#000" stroke-width="0.12">HIV-</text>
<text x="464.80" y="361.00" font-size="5.9" font-weight="bold" text-anchor="start" fill="#000" letter-spacing="0.3" stroke="#000" stroke-width="0.12">HIV+</text>
<rect x="511.10" y="231.00" width="8.70" height="4.00" fill="url(#hatch)" stroke="#000" stroke-width="1.6"/>
<text transform="translate(524.10 236.70) scale(1.17 1)" x="0" y="0" font-size="5.0" font-weight="bold" text-anchor="start" fill="#000" letter-spacing="0.6" stroke="#000" stroke-width="0.1">CD206<tspan font-size="3.40" dy="-2.0" letter-spacing="0.2">lo</tspan><tspan dy="2.0">CD86</tspan><tspan font-size="3.40" dy="-2.0" letter-spacing="0.2">hi</tspan></text>
<rect x="511.10" y="242.10" width="8.70" height="4.00" fill="#fff" stroke="#000" stroke-width="1.6"/>
<text transform="translate(524.10 247.80) scale(1.17 1)" x="0" y="0" font-size="5.0" font-weight="bold" text-anchor="start" fill="#000" letter-spacing="0.6" stroke="#000" stroke-width="0.1">CD206<tspan font-size="3.40" dy="-2.0" letter-spacing="0.2">hi</tspan><tspan dy="2.0">CD86</tspan><tspan font-size="3.40" dy="-2.0" letter-spacing="0.2">hi</tspan></text>
<rect x="511.10" y="253.10" width="8.70" height="3.70" fill="url(#dots)" stroke="#000" stroke-width="1.6"/>
<text transform="translate(524.10 258.65) scale(1.17 1)" x="0" y="0" font-size="5.0" font-weight="bold" text-anchor="start" fill="#000" letter-spacing="0.6" stroke="#000" stroke-width="0.1">CD206<tspan font-size="3.40" dy="-2.0" letter-spacing="0.2">hi</tspan><tspan dy="2.0">CD86</tspan><tspan font-size="3.40" dy="-2.0" letter-spacing="0.2">lo</tspan></text>
<rect x="511.10" y="263.70" width="8.70" height="3.90" fill="url(#chk)" stroke="#000" stroke-width="1.6"/>
<text transform="translate(524.10 269.35) scale(1.17 1)" x="0" y="0" font-size="5.0" font-weight="bold" text-anchor="start" fill="#000" letter-spacing="0.6" stroke="#000" stroke-width="0.1">CD206<tspan font-size="3.40" dy="-2.0" letter-spacing="0.2">lo</tspan><tspan dy="2.0">CD86</tspan><tspan font-size="3.40" dy="-2.0" letter-spacing="0.2">lo</tspan></text>
<line x1="178.40" y1="417.80" x2="178.40" y2="513.80" stroke="#000" stroke-width="1.9"/>
<line x1="175.80" y1="418.10" x2="178.40" y2="418.10" stroke="#000" stroke-width="1.3"/>
<text x="173.60" y="420.60" font-size="5.9" font-weight="bold" text-anchor="end" fill="#000" stroke="#000" stroke-width="0.2">150</text>
<line x1="175.80" y1="449.90" x2="178.40" y2="449.90" stroke="#000" stroke-width="1.3"/>
<text x="173.60" y="452.40" font-size="5.9" font-weight="bold" text-anchor="end" fill="#000" stroke="#000" stroke-width="0.2">100</text>
<line x1="175.80" y1="481.60" x2="178.40" y2="481.60" stroke="#000" stroke-width="1.3"/>
<text x="173.60" y="484.10" font-size="5.9" font-weight="bold" text-anchor="end" fill="#000" stroke="#000" stroke-width="0.2">50</text>
<line x1="175.80" y1="513.00" x2="178.40" y2="513.00" stroke="#000" stroke-width="1.3"/>
<text x="173.60" y="515.50" font-size="5.9" font-weight="bold" text-anchor="end" fill="#000" stroke="#000" stroke-width="0.2">0</text>
<text x="158.50" y="466.30" font-size="6.0" font-weight="bold" text-anchor="middle" fill="#000" stroke="#000" stroke-width="0.3" textLength="100.3" lengthAdjust="spacing" transform="rotate(-90 158.50 466.30)">Degree of CD86 expression</text>
<line x1="273.90" y1="414.00" x2="273.90" y2="512.50" stroke="#000" stroke-width="1.8" stroke-dasharray="2.8,1.9"/>
<line x1="175.30" y1="513.00" x2="371.30" y2="513.00" stroke="#000" stroke-width="1.6"/>
<line x1="190.20" y1="513.00" x2="190.20" y2="516.00" stroke="#000" stroke-width="1.3"/>
<line x1="214.10" y1="513.00" x2="214.10" y2="516.00" stroke="#000" stroke-width="1.3"/>
<line x1="238.30" y1="513.00" x2="238.30" y2="516.00" stroke="#000" stroke-width="1.3"/>
<line x1="262.00" y1="513.00" x2="262.00" y2="516.00" stroke="#000" stroke-width="1.3"/>
<line x1="286.00" y1="513.00" x2="286.00" y2="516.00" stroke="#000" stroke-width="1.3"/>
<line x1="309.80" y1="513.00" x2="309.80" y2="516.00" stroke="#000" stroke-width="1.3"/>
<line x1="333.80" y1="513.00" x2="333.80" y2="516.00" stroke="#000" stroke-width="1.3"/>
<line x1="357.80" y1="513.00" x2="357.80" y2="516.00" stroke="#000" stroke-width="1.3"/>
<line x1="190.10" y1="474.90" x2="190.10" y2="495.70" stroke="#000" stroke-width="1.7"/>
<line x1="185.35" y1="474.90" x2="194.85" y2="474.90" stroke="#000" stroke-width="1.8"/>
<line x1="190.10" y1="501.80" x2="190.10" y2="503.60" stroke="#000" stroke-width="1.7"/>
<line x1="185.35" y1="503.60" x2="194.85" y2="503.60" stroke="#000" stroke-width="1.8"/>
<rect x="182.20" y="496.60" width="15.80" height="4.30" fill="url(#dash)" stroke="#000" stroke-width="1.8"/>
<circle cx="190.10" cy="474.30" r="1.9" fill="#000"/>
<line x1="214.15" y1="439.70" x2="214.15" y2="466.10" stroke="#000" stroke-width="1.7"/>
<line x1="209.40" y1="439.70" x2="218.90" y2="439.70" stroke="#000" stroke-width="1.8"/>
<line x1="214.15" y1="492.10" x2="214.15" y2="495.10" stroke="#000" stroke-width="1.7"/>
<line x1="209.40" y1="495.10" x2="218.90" y2="495.10" stroke="#000" stroke-width="1.8"/>
<rect x="206.50" y="467.00" width="15.30" height="24.20" fill="#fff" stroke="#000" stroke-width="1.8"/>
<line x1="206.50" y1="480.50" x2="221.80" y2="480.50" stroke="#000" stroke-width="1.8"/>
<circle cx="214.15" cy="439.10" r="1.9" fill="#000"/>
<line x1="238.35" y1="494.30" x2="238.35" y2="498.70" stroke="#000" stroke-width="1.7"/>
<line x1="233.60" y1="494.30" x2="243.10" y2="494.30" stroke="#000" stroke-width="1.8"/>
<line x1="238.35" y1="509.60" x2="238.35" y2="510.30" stroke="#000" stroke-width="1.7"/>
<line x1="233.60" y1="510.30" x2="243.10" y2="510.30" stroke="#000" stroke-width="1.8"/>
<rect x="230.60" y="499.60" width="15.50" height="9.10" fill="url(#dots)" stroke="#000" stroke-width="1.8"/>
<line x1="230.60" y1="502.20" x2="246.10" y2="502.20" stroke="#000" stroke-width="1.8"/>
<line x1="262.10" y1="485.10" x2="262.10" y2="499.20" stroke="#000" stroke-width="1.7"/>
<line x1="257.35" y1="485.10" x2="266.85" y2="485.10" stroke="#000" stroke-width="1.8"/>
<rect x="254.40" y="500.10" width="15.40" height="12.00" fill="url(#chk)" stroke="#000" stroke-width="1.8"/>
<line x1="285.90" y1="463.10" x2="285.90" y2="491.30" stroke="#000" stroke-width="1.7"/>
<line x1="281.15" y1="463.10" x2="290.65" y2="463.10" stroke="#000" stroke-width="1.8"/>
<line x1="285.90" y1="505.70" x2="285.90" y2="507.50" stroke="#000" stroke-width="1.7"/>
<line x1="281.15" y1="507.50" x2="290.65" y2="507.50" stroke="#000" stroke-width="1.8"/>
<rect x="278.20" y="492.20" width="15.40" height="12.60" fill="url(#hatch)" stroke="#000" stroke-width="1.8"/>
<circle cx="285.90" cy="433.90" r="1.9" fill="#000"/>
<circle cx="285.90" cy="508.10" r="1.9" fill="#000"/>
<line x1="309.95" y1="457.80" x2="309.95" y2="469.60" stroke="#000" stroke-width="1.7"/>
<line x1="305.20" y1="457.80" x2="314.70" y2="457.80" stroke="#000" stroke-width="1.8"/>
<line x1="309.95" y1="489.00" x2="309.95" y2="495.10" stroke="#000" stroke-width="1.7"/>
<line x1="305.20" y1="495.10" x2="314.70" y2="495.10" stroke="#000" stroke-width="1.8"/>
<rect x="302.50" y="470.50" width="14.90" height="17.60" fill="#fff" stroke="#000" stroke-width="1.8"/>
<line x1="302.50" y1="477.50" x2="317.40" y2="477.50" stroke="#000" stroke-width="1.8"/>
<circle cx="309.95" cy="448.50" r="1.9" fill="#000"/>
<circle cx="309.95" cy="497.80" r="1.9" fill="#000"/>
<line x1="334.05" y1="480.20" x2="334.05" y2="497.40" stroke="#000" stroke-width="1.7"/>
<line x1="329.30" y1="480.20" x2="338.80" y2="480.20" stroke="#000" stroke-width="1.8"/>
<rect x="326.20" y="498.30" width="15.70" height="11.80" fill="url(#dots)" stroke="#000" stroke-width="1.8"/>
<line x1="326.20" y1="503.90" x2="341.90" y2="503.90" stroke="#000" stroke-width="1.8"/>
<line x1="357.65" y1="485.10" x2="357.65" y2="503.90" stroke="#000" stroke-width="1.7"/>
<line x1="352.90" y1="485.10" x2="362.40" y2="485.10" stroke="#000" stroke-width="1.8"/>
<rect x="350.00" y="504.80" width="15.30" height="7.30" fill="url(#chk)" stroke="#000" stroke-width="1.8"/>
<text transform="translate(205.00 527.60) scale(1.17 1)" x="0" y="0" font-size="5.9" font-weight="bold" text-anchor="start" fill="#000" letter-spacing="0.4" stroke="#000" stroke-width="0.12">Carriage -</text>
<text transform="translate(298.80 527.60) scale(1.17 1)" x="0" y="0" font-size="5.9" font-weight="bold" text-anchor="start" fill="#000" letter-spacing="0.4" stroke="#000" stroke-width="0.12">Carriage +</text>
<rect x="370.50" y="423.10" width="10.40" height="3.70" fill="url(#dash)" stroke="#000" stroke-width="1.6"/>
<text transform="translate(386.80 428.65) scale(1.17 1)" x="0" y="0" font-size="5.0" font-weight="bold" text-anchor="start" fill="#000" letter-spacing="0.6" stroke="#000" stroke-width="0.1">CD206<tspan font-size="3.40" dy="-2.0" letter-spacing="0.2">lo</tspan><tspan dy="2.0">CD86</tspan><tspan font-size="3.40" dy="-2.0" letter-spacing="0.2">hi</tspan></text>
<rect x="370.50" y="434.60" width="10.40" height="3.30" fill="#fff" stroke="#000" stroke-width="1.6"/>
<text transform="translate(386.80 439.95) scale(1.17 1)" x="0" y="0" font-size="5.0" font-weight="bold" text-anchor="start" fill="#000" letter-spacing="0.6" stroke="#000" stroke-width="0.1">CD206<tspan font-size="3.40" dy="-2.0" letter-spacing="0.2">hi</tspan><tspan dy="2.0">CD86</tspan><tspan font-size="3.40" dy="-2.0" letter-spacing="0.2">hi</tspan></text>
<rect x="370.50" y="445.10" width="10.40" height="3.70" fill="url(#dots)" stroke="#000" stroke-width="1.6"/>
<text transform="translate(386.80 450.65) scale(1.17 1)" x="0" y="0" font-size="5.0" font-weight="bold" text-anchor="start" fill="#000" letter-spacing="0.6" stroke="#000" stroke-width="0.1">CD206<tspan font-size="3.40" dy="-2.0" letter-spacing="0.2">hi</tspan><tspan dy="2.0">CD86</tspan><tspan font-size="3.40" dy="-2.0" letter-spacing="0.2">lo</tspan></text>
<rect x="370.50" y="456.00" width="10.40" height="3.70" fill="url(#chk)" stroke="#000" stroke-width="1.6"/>
<text transform="translate(386.80 461.55) scale(1.17 1)" x="0" y="0" font-size="5.0" font-weight="bold" text-anchor="start" fill="#000" letter-spacing="0.6" stroke="#000" stroke-width="0.1">CD206<tspan font-size="3.40" dy="-2.0" letter-spacing="0.2">lo</tspan><tspan dy="2.0">CD86</tspan><tspan font-size="3.40" dy="-2.0" letter-spacing="0.2">lo</tspan></text>
<line x1="178.80" y1="554.40" x2="178.80" y2="649.30" stroke="#000" stroke-width="1.9"/>
<line x1="176.20" y1="554.80" x2="178.80" y2="554.80" stroke="#000" stroke-width="1.3"/>
<text x="174.20" y="557.30" font-size="5.9" font-weight="bold" text-anchor="end" fill="#000" stroke="#000" stroke-width="0.2">100</text>
<line x1="176.20" y1="573.40" x2="178.80" y2="573.40" stroke="#000" stroke-width="1.3"/>
<text x="174.20" y="575.90" font-size="5.9" font-weight="bold" text-anchor="end" fill="#000" stroke="#000" stroke-width="0.2">80</text>
<line x1="176.20" y1="592.20" x2="178.80" y2="592.20" stroke="#000" stroke-width="1.3"/>
<text x="174.20" y="594.70" font-size="5.9" font-weight="bold" text-anchor="end" fill="#000" stroke="#000" stroke-width="0.2">60</text>
<line x1="176.20" y1="611.20" x2="178.80" y2="611.20" stroke="#000" stroke-width="1.3"/>
<text x="174.20" y="613.70" font-size="5.9" font-weight="bold" text-anchor="end" fill="#000" stroke="#000" stroke-width="0.2">40</text>
<line x1="176.20" y1="630.00" x2="178.80" y2="630.00" stroke="#000" stroke-width="1.3"/>
<text x="174.20" y="632.50" font-size="5.9" font-weight="bold" text-anchor="end" fill="#000" stroke="#000" stroke-width="0.2">20</text>
<line x1="176.20" y1="648.50" x2="178.80" y2="648.50" stroke="#000" stroke-width="1.3"/>
<text x="174.20" y="651.00" font-size="5.9" font-weight="bold" text-anchor="end" fill="#000" stroke="#000" stroke-width="0.2">0</text>
<text x="159.40" y="601.90" font-size="6.0" font-weight="bold" text-anchor="middle" fill="#000" stroke="#000" stroke-width="0.3" textLength="105.8" lengthAdjust="spacing" transform="rotate(-90 159.40 601.90)">Degree of HLADR expression</text>
<line x1="274.60" y1="546.30" x2="274.60" y2="643.00" stroke="#000" stroke-width="1.8" stroke-dasharray="2.8,1.9"/>
<line x1="176.00" y1="648.50" x2="370.00" y2="648.50" stroke="#000" stroke-width="1.6"/>
<line x1="192.00" y1="648.50" x2="192.00" y2="651.50" stroke="#000" stroke-width="1.3"/>
<line x1="215.60" y1="648.50" x2="215.60" y2="651.50" stroke="#000" stroke-width="1.3"/>
<line x1="239.10" y1="648.50" x2="239.10" y2="651.50" stroke="#000" stroke-width="1.3"/>
<line x1="262.50" y1="648.50" x2="262.50" y2="651.50" stroke="#000" stroke-width="1.3"/>
<line x1="286.50" y1="648.50" x2="286.50" y2="651.50" stroke="#000" stroke-width="1.3"/>
<line x1="309.80" y1="648.50" x2="309.80" y2="651.50" stroke="#000" stroke-width="1.3"/>
<line x1="334.00" y1="648.50" x2="334.00" y2="651.50" stroke="#000" stroke-width="1.3"/>
<line x1="357.30" y1="648.50" x2="357.30" y2="651.50" stroke="#000" stroke-width="1.3"/>
<line x1="191.80" y1="621.00" x2="191.80" y2="632.40" stroke="#000" stroke-width="1.7"/>
<line x1="187.05" y1="621.00" x2="196.55" y2="621.00" stroke="#000" stroke-width="1.8"/>
<line x1="191.80" y1="641.60" x2="191.80" y2="648.00" stroke="#000" stroke-width="1.7"/>
<line x1="187.05" y1="648.00" x2="196.55" y2="648.00" stroke="#000" stroke-width="1.8"/>
<rect x="183.90" y="633.30" width="15.80" height="7.40" fill="url(#hatch)" stroke="#000" stroke-width="1.8"/>
<circle cx="191.80" cy="647.50" r="1.9" fill="#000"/>
<circle cx="191.80" cy="620.40" r="1.9" fill="#000"/>
<line x1="215.65" y1="579.50" x2="215.65" y2="605.50" stroke="#000" stroke-width="1.7"/>
<line x1="210.90" y1="579.50" x2="220.40" y2="579.50" stroke="#000" stroke-width="1.8"/>
<line x1="215.65" y1="625.80" x2="215.65" y2="646.30" stroke="#000" stroke-width="1.7"/>
<line x1="210.90" y1="646.30" x2="220.40" y2="646.30" stroke="#000" stroke-width="1.8"/>
<rect x="208.40" y="606.40" width="14.50" height="18.50" fill="#fff" stroke="#000" stroke-width="1.8"/>
<line x1="208.40" y1="619.30" x2="222.90" y2="619.30" stroke="#000" stroke-width="1.8"/>
<circle cx="215.65" cy="578.20" r="1.9" fill="#000"/>
<circle cx="215.65" cy="646.50" r="1.9" fill="#000"/>
<line x1="239.40" y1="635.80" x2="239.40" y2="639.60" stroke="#000" stroke-width="1.7"/>
<line x1="234.65" y1="635.80" x2="244.15" y2="635.80" stroke="#000" stroke-width="1.8"/>
<line x1="239.40" y1="644.80" x2="239.40" y2="647.60" stroke="#000" stroke-width="1.7"/>
<line x1="234.65" y1="647.60" x2="244.15" y2="647.60" stroke="#000" stroke-width="1.8"/>
<rect x="231.50" y="640.50" width="15.80" height="3.40" fill="url(#dots)" stroke="#000" stroke-width="1.8"/>
<line x1="233.00" y1="642.20" x2="246.00" y2="642.20" stroke="#444" stroke-width="0.9" stroke-dasharray="1.2,0.8"/>
<rect x="254.70" y="645.20" width="15.70" height="2.40" fill="#000" stroke="#000" stroke-width="1.8"/>
<line x1="286.50" y1="626.30" x2="286.50" y2="633.80" stroke="#000" stroke-width="1.7"/>
<line x1="281.75" y1="626.30" x2="291.25" y2="626.30" stroke="#000" stroke-width="1.8"/>
<line x1="286.50" y1="644.50" x2="286.50" y2="648.00" stroke="#000" stroke-width="1.7"/>
<line x1="281.75" y1="648.00" x2="291.25" y2="648.00" stroke="#000" stroke-width="1.8"/>
<rect x="278.90" y="634.70" width="15.20" height="8.90" fill="url(#hatch)" stroke="#000" stroke-width="1.8"/>
<circle cx="286.50" cy="623.50" r="1.9" fill="#000"/>
<circle cx="286.50" cy="647.50" r="1.9" fill="#000"/>
<line x1="310.15" y1="582.30" x2="310.15" y2="606.70" stroke="#000" stroke-width="1.7"/>
<line x1="305.40" y1="582.30" x2="314.90" y2="582.30" stroke="#000" stroke-width="1.8"/>
<line x1="310.15" y1="637.20" x2="310.15" y2="648.00" stroke="#000" stroke-width="1.7"/>
<line x1="305.40" y1="648.00" x2="314.90" y2="648.00" stroke="#000" stroke-width="1.8"/>
<rect x="302.50" y="607.60" width="15.30" height="28.70" fill="#fff" stroke="#000" stroke-width="1.8"/>
<line x1="302.50" y1="621.30" x2="317.80" y2="621.30" stroke="#000" stroke-width="1.8"/>
<circle cx="310.15" cy="572.90" r="1.9" fill="#000"/>
<circle cx="310.15" cy="647.50" r="1.9" fill="#000"/>
<line x1="334.00" y1="637.70" x2="334.00" y2="639.50" stroke="#000" stroke-width="1.7"/>
<line x1="329.25" y1="637.70" x2="338.75" y2="637.70" stroke="#000" stroke-width="1.8"/>
<rect x="326.10" y="640.40" width="15.80" height="5.60" fill="url(#dots)" stroke="#000" stroke-width="1.8"/>
<line x1="326.10" y1="643.20" x2="341.90" y2="643.20" stroke="#000" stroke-width="1.8"/>
<line x1="357.40" y1="643.90" x2="357.40" y2="645.00" stroke="#000" stroke-width="1.7"/>
<line x1="352.65" y1="643.90" x2="362.15" y2="643.90" stroke="#000" stroke-width="1.8"/>
<rect x="349.50" y="645.90" width="15.80" height="1.70" fill="#000" stroke="#000" stroke-width="1.8"/>
<text transform="translate(201.30 661.60) scale(1.17 1)" x="0" y="0" font-size="5.9" font-weight="bold" text-anchor="start" fill="#000" letter-spacing="0.4" stroke="#000" stroke-width="0.12">Carriage -</text>
<text transform="translate(298.80 661.60) scale(1.17 1)" x="0" y="0" font-size="5.9" font-weight="bold" text-anchor="start" fill="#000" letter-spacing="0.4" stroke="#000" stroke-width="0.12">Carriage +</text>
<rect x="370.30" y="559.80" width="9.40" height="3.90" fill="url(#hatch)" stroke="#000" stroke-width="1.6"/>
<text transform="translate(385.00 565.45) scale(1.17 1)" x="0" y="0" font-size="5.0" font-weight="bold" text-anchor="start" fill="#000" letter-spacing="0.6" stroke="#000" stroke-width="0.1">CD206<tspan font-size="3.40" dy="-2.0" letter-spacing="0.2">lo</tspan><tspan dy="2.0">CD86</tspan><tspan font-size="3.40" dy="-2.0" letter-spacing="0.2">hi</tspan></text>
<rect x="370.30" y="570.60" width="9.40" height="3.80" fill="#fff" stroke="#000" stroke-width="1.6"/>
<text transform="translate(385.00 576.20) scale(1.17 1)" x="0" y="0" font-size="5.0" font-weight="bold" text-anchor="start" fill="#000" letter-spacing="0.6" stroke="#000" stroke-width="0.1">CD206<tspan font-size="3.40" dy="-2.0" letter-spacing="0.2">hi</tspan><tspan dy="2.0">CD86</tspan><tspan font-size="3.40" dy="-2.0" letter-spacing="0.2">hi</tspan></text>
<rect x="370.30" y="581.30" width="9.40" height="3.90" fill="url(#dots)" stroke="#000" stroke-width="1.6"/>
<text transform="translate(385.00 586.95) scale(1.17 1)" x="0" y="0" font-size="5.0" font-weight="bold" text-anchor="start" fill="#000" letter-spacing="0.6" stroke="#000" stroke-width="0.1">CD206<tspan font-size="3.40" dy="-2.0" letter-spacing="0.2">hi</tspan><tspan dy="2.0">CD86</tspan><tspan font-size="3.40" dy="-2.0" letter-spacing="0.2">lo</tspan></text>
<rect x="370.30" y="592.30" width="9.40" height="3.90" fill="url(#chk)" stroke="#000" stroke-width="1.6"/>
<text transform="translate(385.00 597.95) scale(1.17 1)" x="0" y="0" font-size="5.0" font-weight="bold" text-anchor="start" fill="#000" letter-spacing="0.6" stroke="#000" stroke-width="0.1">CD206<tspan font-size="3.40" dy="-2.0" letter-spacing="0.2">lo</tspan><tspan dy="2.0">CD86</tspan><tspan font-size="3.40" dy="-2.0" letter-spacing="0.2">lo</tspan></text>
<line x1="177.00" y1="694.50" x2="177.00" y2="790.40" stroke="#000" stroke-width="1.9"/>
<line x1="174.40" y1="694.80" x2="177.00" y2="694.80" stroke="#000" stroke-width="1.3"/>
<text x="172.20" y="697.30" font-size="5.9" font-weight="bold" text-anchor="end" fill="#000" stroke="#000" stroke-width="0.2">400</text>
<line x1="174.40" y1="718.50" x2="177.00" y2="718.50" stroke="#000" stroke-width="1.3"/>
<text x="172.20" y="721.00" font-size="5.9" font-weight="bold" text-anchor="end" fill="#000" stroke="#000" stroke-width="0.2">300</text>
<line x1="174.40" y1="742.20" x2="177.00" y2="742.20" stroke="#000" stroke-width="1.3"/>
<text x="172.20" y="744.70" font-size="5.9" font-weight="bold" text-anchor="end" fill="#000" stroke="#000" stroke-width="0.2">200</text>
<line x1="174.40" y1="766.00" x2="177.00" y2="766.00" stroke="#000" stroke-width="1.3"/>
<text x="172.20" y="768.50" font-size="5.9" font-weight="bold" text-anchor="end" fill="#000" stroke="#000" stroke-width="0.2">100</text>
<line x1="174.40" y1="789.60" x2="177.00" y2="789.60" stroke="#000" stroke-width="1.3"/>
<text x="172.20" y="792.10" font-size="5.9" font-weight="bold" text-anchor="end" fill="#000" stroke="#000" stroke-width="0.2">0</text>
<text x="155.50" y="742.50" font-size="6.0" font-weight="bold" text-anchor="middle" fill="#000" stroke="#000" stroke-width="0.3" textLength="100.4" lengthAdjust="spacing" transform="rotate(-90 155.50 742.50)">Degree of CD64 expression</text>
<line x1="272.50" y1="690.50" x2="272.50" y2="789.00" stroke="#000" stroke-width="1.8" stroke-dasharray="2.8,1.9"/>
<line x1="174.20" y1="789.60" x2="368.80" y2="789.60" stroke="#000" stroke-width="1.6"/>
<line x1="189.00" y1="789.60" x2="189.00" y2="792.60" stroke="#000" stroke-width="1.3"/>
<line x1="212.50" y1="789.60" x2="212.50" y2="792.60" stroke="#000" stroke-width="1.3"/>
<line x1="236.50" y1="789.60" x2="236.50" y2="792.60" stroke="#000" stroke-width="1.3"/>
<line x1="260.80" y1="789.60" x2="260.80" y2="792.60" stroke="#000" stroke-width="1.3"/>
<line x1="285.00" y1="789.60" x2="285.00" y2="792.60" stroke="#000" stroke-width="1.3"/>
<line x1="308.50" y1="789.60" x2="308.50" y2="792.60" stroke="#000" stroke-width="1.3"/>
<line x1="332.30" y1="789.60" x2="332.30" y2="792.60" stroke="#000" stroke-width="1.3"/>
<line x1="356.30" y1="789.60" x2="356.30" y2="792.60" stroke="#000" stroke-width="1.3"/>
<line x1="189.05" y1="772.00" x2="189.05" y2="777.30" stroke="#000" stroke-width="1.7"/>
<line x1="184.30" y1="772.00" x2="193.80" y2="772.00" stroke="#000" stroke-width="1.8"/>
<rect x="181.30" y="778.20" width="15.50" height="7.00" fill="url(#hatch)" stroke="#000" stroke-width="1.8"/>
<circle cx="189.05" cy="770.60" r="1.9" fill="#000"/>
<circle cx="189.05" cy="787.50" r="1.9" fill="#000"/>
<line x1="212.80" y1="731.50" x2="212.80" y2="763.30" stroke="#000" stroke-width="1.7"/>
<line x1="208.05" y1="731.50" x2="217.55" y2="731.50" stroke="#000" stroke-width="1.8"/>
<line x1="212.80" y1="775.10" x2="212.80" y2="783.60" stroke="#000" stroke-width="1.7"/>
<line x1="208.05" y1="783.60" x2="217.55" y2="783.60" stroke="#000" stroke-width="1.8"/>
<rect x="205.10" y="764.20" width="15.40" height="10.00" fill="#fff" stroke="#000" stroke-width="1.8"/>
<line x1="205.10" y1="771.80" x2="220.50" y2="771.80" stroke="#000" stroke-width="1.8"/>
<circle cx="212.80" cy="727.80" r="1.9" fill="#000"/>
<circle cx="212.80" cy="784.20" r="1.9" fill="#000"/>
<line x1="236.75" y1="778.70" x2="236.75" y2="781.80" stroke="#000" stroke-width="1.7"/>
<line x1="232.00" y1="778.70" x2="241.50" y2="778.70" stroke="#000" stroke-width="1.8"/>
<rect x="228.90" y="782.70" width="15.70" height="6.00" fill="url(#dash)" stroke="#000" stroke-width="1.8"/>
<line x1="260.75" y1="783.60" x2="260.75" y2="784.80" stroke="#000" stroke-width="1.7"/>
<line x1="256.00" y1="783.60" x2="265.50" y2="783.60" stroke="#000" stroke-width="1.8"/>
<rect x="252.90" y="785.70" width="15.70" height="3.00" fill="#000" stroke="#000" stroke-width="1.8"/>
<line x1="285.05" y1="773.00" x2="285.05" y2="779.50" stroke="#000" stroke-width="1.7"/>
<line x1="280.30" y1="773.00" x2="289.80" y2="773.00" stroke="#000" stroke-width="1.8"/>
<line x1="285.05" y1="787.00" x2="285.05" y2="789.00" stroke="#000" stroke-width="1.7"/>
<line x1="280.30" y1="789.00" x2="289.80" y2="789.00" stroke="#000" stroke-width="1.8"/>
<rect x="277.20" y="780.40" width="15.70" height="5.70" fill="url(#hatch)" stroke="#000" stroke-width="1.8"/>
<circle cx="285.05" cy="770.50" r="1.9" fill="#000"/>
<line x1="308.50" y1="744.00" x2="308.50" y2="763.70" stroke="#000" stroke-width="1.7"/>
<line x1="303.75" y1="744.00" x2="313.25" y2="744.00" stroke="#000" stroke-width="1.8"/>
<line x1="308.50" y1="780.60" x2="308.50" y2="786.80" stroke="#000" stroke-width="1.7"/>
<line x1="303.75" y1="786.80" x2="313.25" y2="786.80" stroke="#000" stroke-width="1.8"/>
<rect x="301.10" y="764.60" width="14.80" height="15.10" fill="#fff" stroke="#000" stroke-width="1.8"/>
<line x1="301.10" y1="767.80" x2="315.90" y2="767.80" stroke="#000" stroke-width="1.8"/>
<circle cx="308.50" cy="708.80" r="1.9" fill="#000"/>
<circle cx="308.50" cy="787.40" r="1.9" fill="#000"/>
<line x1="332.25" y1="778.90" x2="332.25" y2="783.60" stroke="#000" stroke-width="1.7"/>
<line x1="327.50" y1="778.90" x2="337.00" y2="778.90" stroke="#000" stroke-width="1.8"/>
<rect x="324.40" y="784.50" width="15.70" height="4.20" fill="url(#dash)" stroke="#000" stroke-width="1.8"/>
<line x1="356.00" y1="782.60" x2="356.00" y2="784.20" stroke="#000" stroke-width="1.7"/>
<line x1="351.25" y1="782.60" x2="360.75" y2="782.60" stroke="#000" stroke-width="1.8"/>
<rect x="348.10" y="785.10" width="15.80" height="3.60" fill="url(#dash)" stroke="#000" stroke-width="1.8"/>
<text transform="translate(197.00 802.40) scale(1.17 1)" x="0" y="0" font-size="5.9" font-weight="bold" text-anchor="start" fill="#000" letter-spacing="0.5" stroke="#000" stroke-width="0.12">Carriage -</text>
<text transform="translate(297.50 802.80) scale(1.17 1)" x="0" y="0" font-size="5.9" font-weight="bold" text-anchor="start" fill="#000" letter-spacing="0.4" stroke="#000" stroke-width="0.12">Carriage +</text>
<rect x="369.60" y="699.80" width="10.10" height="3.90" fill="url(#hatch)" stroke="#000" stroke-width="1.6"/>
<text transform="translate(385.00 705.45) scale(1.17 1)" x="0" y="0" font-size="5.0" font-weight="bold" text-anchor="start" fill="#000" letter-spacing="0.6" stroke="#000" stroke-width="0.1">CD206<tspan font-size="3.40" dy="-2.0" letter-spacing="0.2">lo</tspan><tspan dy="2.0">CD86</tspan><tspan font-size="3.40" dy="-2.0" letter-spacing="0.2">hi</tspan></text>
<rect x="369.60" y="710.60" width="10.10" height="3.80" fill="#fff" stroke="#000" stroke-width="1.6"/>
<text transform="translate(385.00 716.20) scale(1.17 1)" x="0" y="0" font-size="5.0" font-weight="bold" text-anchor="start" fill="#000" letter-spacing="0.6" stroke="#000" stroke-width="0.1">CD206<tspan font-size="3.40" dy="-2.0" letter-spacing="0.2">hi</tspan><tspan dy="2.0">CD86</tspan><tspan font-size="3.40" dy="-2.0" letter-spacing="0.2">hi</tspan></text>
<rect x="369.60" y="721.80" width="10.10" height="3.90" fill="url(#dots)" stroke="#000" stroke-width="1.6"/>
<text transform="translate(385.00 727.45) scale(1.17 1)" x="0" y="0" font-size="5.0" font-weight="bold" text-anchor="start" fill="#000" letter-spacing="0.6" stroke="#000" stroke-width="0.1">CD206<tspan font-size="3.40" dy="-2.0" letter-spacing="0.2">hi</tspan><tspan dy="2.0">CD86</tspan><tspan font-size="3.40" dy="-2.0" letter-spacing="0.2">lo</tspan></text>
<rect x="369.60" y="732.60" width="10.10" height="3.80" fill="url(#chk)" stroke="#000" stroke-width="1.6"/>
<text transform="translate(385.00 738.20) scale(1.17 1)" x="0" y="0" font-size="5.0" font-weight="bold" text-anchor="start" fill="#000" letter-spacing="0.6" stroke="#000" stroke-width="0.1">CD206<tspan font-size="3.40" dy="-2.0" letter-spacing="0.2">lo</tspan><tspan dy="2.0">CD86</tspan><tspan font-size="3.40" dy="-2.0" letter-spacing="0.2">lo</tspan></text>
</svg>
</body></html>
